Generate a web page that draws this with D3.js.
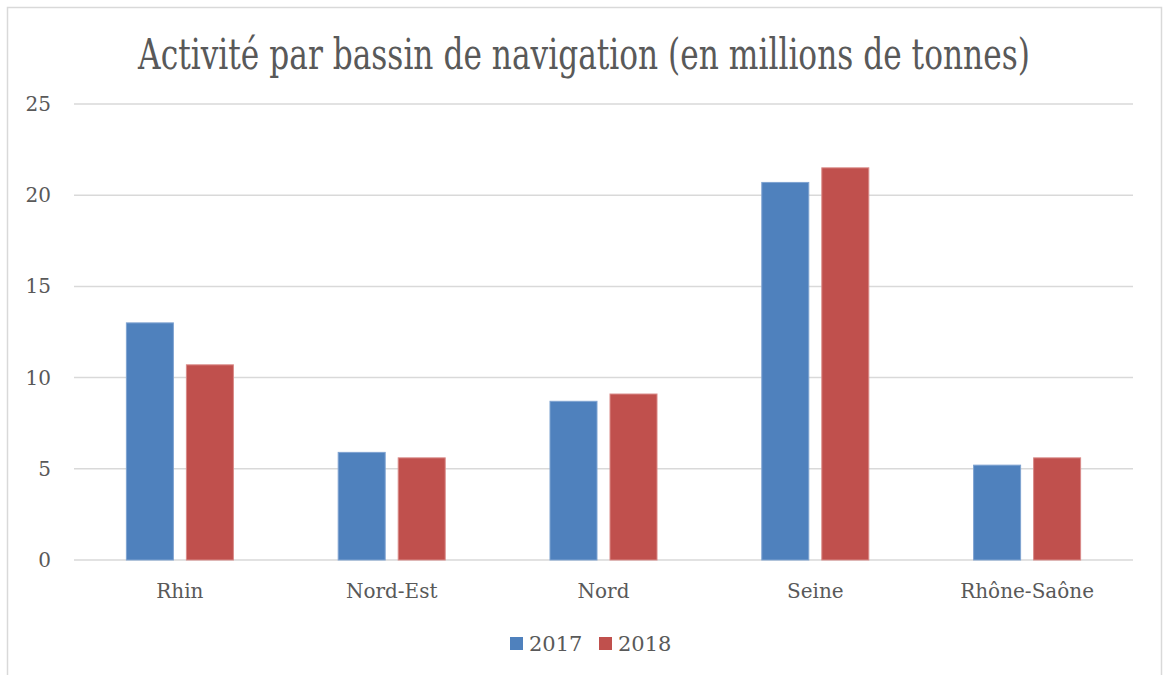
<!DOCTYPE html>
<html>
<head>
<meta charset="utf-8">
<script src="https://cdn.jsdelivr.net/npm/d3@7"></script>
<style>
  body { margin: 0; background: #fff; }
  text { font-family: "DejaVu Serif", "Liberation Serif", serif; fill: #595959; }
</style>
</head>
<body>
<svg id="chart" width="1164" height="675"></svg>
<script>
var categories = ["Rhin", "Nord-Est", "Nord", "Seine", "Rhône-Saône"];
var series = ["2017", "2018"];
var values2017 = [13.0, 5.9, 8.7, 20.7, 5.2];
var values2018 = [10.7, 5.6, 9.1, 21.5, 5.6];
var yTicks = [0, 5, 10, 15, 20, 25];
var colors = ["#4F81BD", "#C0504D"];
var strokes = ["#7FA3D1", "#D98A88"];

var rows = categories.map(function(c, i) {
  return {cat: c, vals: [values2017[i], values2018[i]]};
});

var margin = {top: 104, right: 31, bottom: 115, left: 74},
    width = 1164 - margin.left - margin.right,
    height = 675 - margin.top - margin.bottom;

var svg = d3.select("#chart");

// outer chart border (bottom edge runs off the picture)
svg.append("rect")
    .attr("x", 7.5)
    .attr("y", 7.5)
    .attr("width", 1154)
    .attr("height", 700)
    .style("fill", "none")
    .style("stroke", "#D9D9D9")
    .style("stroke-width", 1.5);

// title: the original font is narrow, so squeeze it horizontally to fit
var title = svg.append("text")
    .attr("text-anchor", "middle")
    .style("font-size", "42px")
    .text("Activité par bassin de navigation (en millions de tonnes)");
var tw = title.node().getComputedTextLength();
title.attr("transform", "translate(584,69) scale(" + (892 / tw) + ",1)");

var g = svg.append("g")
    .attr("transform", "translate(" + margin.left + "," + margin.top + ")");

var x0 = d3.scaleBand().domain(categories).range([0, width]);
var x1 = d3.scaleBand().domain(series).range([0, x0.bandwidth()])
    .paddingInner(0.2167).paddingOuter(0.873);
var y = d3.scaleLinear().domain([0, 25]).range([height, 0]);

// gridlines
g.selectAll(".grid")
    .data(yTicks)
  .enter().append("line")
    .attr("class", "grid")
    .attr("x1", 0)
    .attr("x2", width)
    .attr("y1", function(d) { return y(d); })
    .attr("y2", function(d) { return y(d); })
    .style("stroke", "#D9D9D9")
    .style("stroke-width", 1.5);

// y labels
g.selectAll(".ylab")
    .data(yTicks)
  .enter().append("text")
    .attr("class", "ylab")
    .attr("x", -23)
    .attr("y", function(d) { return y(d); })
    .attr("dy", "0.35em")
    .attr("text-anchor", "end")
    .style("font-size", "20px")
    .text(String);

var groups = g.selectAll(".grp")
    .data(rows)
  .enter().append("g")
    .attr("class", "grp")
    .attr("transform", function(d) { return "translate(" + x0(d.cat) + ",0)"; });

groups.selectAll("rect")
    .data(function(d) { return d.vals.map(function(v, i) { return {s: series[i], v: v, i: i}; }); })
  .enter().append("rect")
    .attr("x", function(d) { return x1(d.s); })
    .attr("y", function(d) { return y(d.v); })
    .attr("width", x1.bandwidth())
    .attr("height", function(d) { return y(0) - y(d.v); })
    .style("fill", function(d) { return colors[d.i]; })
    .style("stroke", function(d) { return strokes[d.i]; })
    .style("stroke-width", 1);

// category labels
g.selectAll(".xlab")
    .data(categories)
  .enter().append("text")
    .attr("class", "xlab")
    .attr("x", function(d) { return x0(d) + x0.bandwidth() / 2; })
    .attr("y", height + 38)
    .attr("text-anchor", "middle")
    .style("font-size", "20px")
    .text(String);

// legend
var legend = svg.selectAll(".legend")
    .data(series)
  .enter().append("g")
    .attr("class", "legend")
    .attr("transform", function(d, i) { return "translate(" + (510 + i * 89) + ",637)"; });

legend.append("rect")
    .attr("width", 13)
    .attr("height", 13)
    .style("fill", function(d, i) { return colors[i]; });

legend.append("text")
    .attr("x", 19)
    .attr("y", 14)
    .style("font-size", "21px")
    .text(String);
</script>
</body>
</html>
